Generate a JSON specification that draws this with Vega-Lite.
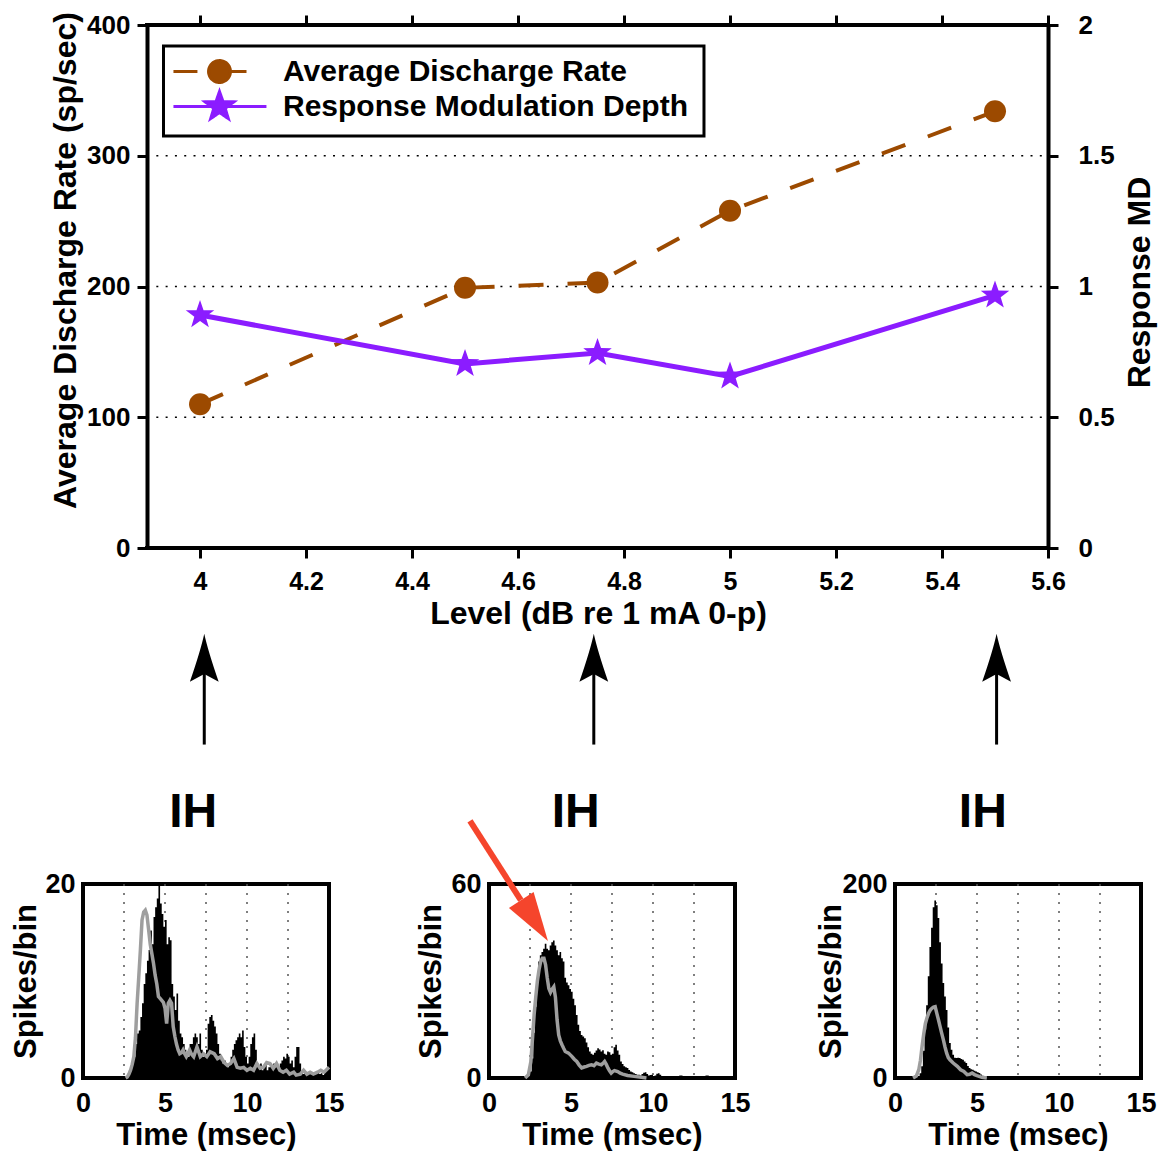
{
  "$schema": "https://vega.github.io/schema/vega-lite/v6.json",
  "padding": {"left": 7, "top": 11, "right": 0, "bottom": 0},
  "spacing": 0,
  "bounds": "flush",
  "config": {
    "font": "Liberation Sans",
    "view": {"stroke": null},
    "axis": {"grid": false, "labelColor": "black", "titleColor": "black", "labelFontWeight": "bold", "titleFontWeight": "bold", "domainColor": "black", "tickColor": "black", "labelFlush": false, "labelOverlap": false}
  },
  "datasets": {
    "h1": [{"t":2.5,"v":0},{"t":2.6,"v":0},{"t":2.7,"v":0.4},{"t":2.8,"v":0.8},{"t":2.9,"v":1},{"t":3.0,"v":1.5},{"t":3.1,"v":2.2},{"t":3.2,"v":3.5},{"t":3.3,"v":4.6},{"t":3.4,"v":4.9},{"t":3.5,"v":6.3},{"t":3.6,"v":7.7},{"t":3.7,"v":9.7},{"t":3.8,"v":10.8},{"t":3.9,"v":12.1},{"t":4.0,"v":13.2},{"t":4.1,"v":15.2},{"t":4.2,"v":13.8},{"t":4.3,"v":16.6},{"t":4.4,"v":17.6},{"t":4.5,"v":18.5},{"t":4.6,"v":20},{"t":4.7,"v":18},{"t":4.8,"v":16.9},{"t":4.9,"v":15.6},{"t":5.0,"v":16.3},{"t":5.1,"v":13.8},{"t":5.2,"v":14.5},{"t":5.3,"v":14.2},{"t":5.4,"v":9.7},{"t":5.5,"v":8.4},{"t":5.6,"v":7},{"t":5.7,"v":8.7},{"t":5.8,"v":5.9},{"t":5.9,"v":4.6},{"t":6.0,"v":4.2},{"t":6.1,"v":3.5},{"t":6.2,"v":2.9},{"t":6.3,"v":2.5},{"t":6.4,"v":2.2},{"t":6.5,"v":3.5},{"t":6.6,"v":3.5},{"t":6.7,"v":4.2},{"t":6.8,"v":4.6},{"t":6.9,"v":4.2},{"t":7.0,"v":3.5},{"t":7.1,"v":4.6},{"t":7.2,"v":2.9},{"t":7.3,"v":2.2},{"t":7.4,"v":2.5},{"t":7.5,"v":2.9},{"t":7.6,"v":5.6},{"t":7.7,"v":6.3},{"t":7.8,"v":6.5},{"t":7.9,"v":5.9},{"t":8.0,"v":5.3},{"t":8.1,"v":4.6},{"t":8.2,"v":3.5},{"t":8.3,"v":2.5},{"t":8.4,"v":1.8},{"t":8.5,"v":1.5},{"t":8.6,"v":1.8},{"t":8.7,"v":1.5},{"t":8.8,"v":1.1},{"t":8.9,"v":1.5},{"t":9.0,"v":2.2},{"t":9.1,"v":2.9},{"t":9.2,"v":3.5},{"t":9.3,"v":3.9},{"t":9.4,"v":4.2},{"t":9.5,"v":4.6},{"t":9.6,"v":4.2},{"t":9.7,"v":4.9},{"t":9.8,"v":3.2},{"t":9.9,"v":2.2},{"t":10.0,"v":1.5},{"t":10.1,"v":2.2},{"t":10.2,"v":3.5},{"t":10.3,"v":4.2},{"t":10.4,"v":4.6},{"t":10.5,"v":2.9},{"t":10.6,"v":1.5},{"t":10.7,"v":1.1},{"t":10.8,"v":1.5},{"t":10.9,"v":0.8},{"t":11.0,"v":1.1},{"t":11.1,"v":1.5},{"t":11.2,"v":0.8},{"t":11.3,"v":1.1},{"t":11.4,"v":1.5},{"t":11.5,"v":1.1},{"t":11.6,"v":1.5},{"t":11.7,"v":1.1},{"t":11.8,"v":1.5},{"t":11.9,"v":1.0},{"t":12.0,"v":1.5},{"t":12.1,"v":1.8},{"t":12.2,"v":2.2},{"t":12.3,"v":2.0},{"t":12.4,"v":2.5},{"t":12.5,"v":2.2},{"t":12.6,"v":1.5},{"t":12.7,"v":1.8},{"t":12.8,"v":1.1},{"t":12.9,"v":2.2},{"t":13.0,"v":3.2},{"t":13.1,"v":3.2},{"t":13.2,"v":1.5},{"t":13.3,"v":0.6},{"t":13.4,"v":0.4},{"t":13.5,"v":0.6},{"t":13.6,"v":0.3},{"t":13.7,"v":0.5},{"t":13.8,"v":0.4},{"t":13.9,"v":0.6},{"t":14.0,"v":0.3},{"t":14.1,"v":0.5},{"t":14.2,"v":0.4},{"t":14.3,"v":0.6},{"t":14.4,"v":0.4},{"t":14.5,"v":0.5},{"t":14.6,"v":0.3},{"t":14.7,"v":0.6},{"t":14.8,"v":0.8},{"t":14.9,"v":1.5},{"t":15.0,"v":1.5}],
    "g1": [{"t":2.6,"v":0},{"t":2.7,"v":0.1},{"t":2.8,"v":0.4},{"t":2.9,"v":0.8},{"t":3.0,"v":1.4},{"t":3.1,"v":2.2},{"t":3.2,"v":4.2},{"t":3.3,"v":7.7},{"t":3.4,"v":10.4},{"t":3.5,"v":13.2},{"t":3.6,"v":16.3},{"t":3.7,"v":17.1},{"t":3.8,"v":17.3},{"t":3.9,"v":16.8},{"t":4.0,"v":15.3},{"t":4.1,"v":13.8},{"t":4.2,"v":12.8},{"t":4.3,"v":11.8},{"t":4.4,"v":10.6},{"t":4.5,"v":9.7},{"t":4.6,"v":8.4},{"t":4.7,"v":8.2},{"t":4.8,"v":8.0},{"t":4.9,"v":7.8},{"t":5.0,"v":7.2},{"t":5.1,"v":5.6},{"t":5.2,"v":7.7},{"t":5.3,"v":8.0},{"t":5.4,"v":7.7},{"t":5.5,"v":5.3},{"t":5.6,"v":4.3},{"t":5.7,"v":3.5},{"t":5.8,"v":2.9},{"t":5.9,"v":2.5},{"t":6.0,"v":2.6},{"t":6.1,"v":2.9},{"t":6.2,"v":2.5},{"t":6.3,"v":2.2},{"t":6.4,"v":2.5},{"t":6.5,"v":2.9},{"t":6.6,"v":2.5},{"t":6.75,"v":2.2},{"t":6.85,"v":2.7},{"t":6.95,"v":3.2},{"t":7.05,"v":2.7},{"t":7.15,"v":2.2},{"t":7.35,"v":2.5},{"t":7.55,"v":2.2},{"t":7.75,"v":2.7},{"t":8.0,"v":2.5},{"t":8.2,"v":2.0},{"t":8.4,"v":2.2},{"t":8.6,"v":1.6},{"t":8.8,"v":1.3},{"t":9.0,"v":1.5},{"t":9.2,"v":2.0},{"t":9.4,"v":1.1},{"t":9.6,"v":1.0},{"t":9.8,"v":1.1},{"t":10.0,"v":0.8},{"t":10.2,"v":1.0},{"t":10.4,"v":0.8},{"t":10.6,"v":1.5},{"t":10.8,"v":1.0},{"t":11.0,"v":1.1},{"t":11.2,"v":1.6},{"t":11.4,"v":1.5},{"t":11.6,"v":1.0},{"t":11.8,"v":1.5},{"t":12.0,"v":0.8},{"t":12.2,"v":0.6},{"t":12.4,"v":0.8},{"t":12.6,"v":0.4},{"t":12.85,"v":0.6},{"t":13.0,"v":0.3},{"t":13.25,"v":0.4},{"t":13.45,"v":0.8},{"t":13.65,"v":0.4},{"t":13.85,"v":0.6},{"t":14.05,"v":0.4},{"t":14.3,"v":0.6},{"t":14.5,"v":0.8},{"t":14.7,"v":0.6},{"t":15.0,"v":1.1}],
    "h2": [{"t":2.3,"v":0},{"t":2.4,"v":0.5},{"t":2.5,"v":2},{"t":2.6,"v":6},{"t":2.7,"v":14},{"t":2.8,"v":22},{"t":2.9,"v":30},{"t":3.0,"v":36},{"t":3.1,"v":38},{"t":3.2,"v":39},{"t":3.3,"v":40},{"t":3.4,"v":41.5},{"t":3.5,"v":40},{"t":3.6,"v":39.5},{"t":3.7,"v":41},{"t":3.8,"v":42},{"t":3.9,"v":42.5},{"t":4.0,"v":41},{"t":4.1,"v":39.5},{"t":4.2,"v":38},{"t":4.3,"v":39},{"t":4.4,"v":37},{"t":4.5,"v":36},{"t":4.6,"v":31},{"t":4.7,"v":29.5},{"t":4.8,"v":28.7},{"t":4.9,"v":27.5},{"t":5.0,"v":26.7},{"t":5.1,"v":24.5},{"t":5.2,"v":22.5},{"t":5.3,"v":19.5},{"t":5.4,"v":16.5},{"t":5.5,"v":14.5},{"t":5.6,"v":13.3},{"t":5.7,"v":12.8},{"t":5.8,"v":12.3},{"t":5.9,"v":11},{"t":6.0,"v":9.5},{"t":6.1,"v":8.2},{"t":6.2,"v":7.5},{"t":6.3,"v":7.2},{"t":6.4,"v":7.8},{"t":6.5,"v":8.5},{"t":6.6,"v":9.2},{"t":6.7,"v":8.8},{"t":6.8,"v":8.2},{"t":6.9,"v":8.6},{"t":7.0,"v":7.5},{"t":7.1,"v":7.2},{"t":7.2,"v":8.2},{"t":7.3,"v":8.0},{"t":7.4,"v":7.2},{"t":7.5,"v":7.5},{"t":7.6,"v":9.5},{"t":7.7,"v":10.3},{"t":7.8,"v":8.5},{"t":7.9,"v":7.2},{"t":8.0,"v":5.1},{"t":8.1,"v":4.3},{"t":8.2,"v":3.6},{"t":8.3,"v":3.3},{"t":8.4,"v":3.1},{"t":8.5,"v":2.5},{"t":8.6,"v":2.0},{"t":8.7,"v":1.8},{"t":8.8,"v":1.5},{"t":8.9,"v":1.2},{"t":9.0,"v":1.0},{"t":9.1,"v":1.0},{"t":9.2,"v":0.8},{"t":9.3,"v":1.2},{"t":9.4,"v":1.6},{"t":9.5,"v":1.8},{"t":9.6,"v":1.2},{"t":9.7,"v":0.8},{"t":9.8,"v":0.9},{"t":9.9,"v":1.0},{"t":10.0,"v":0.6},{"t":10.1,"v":0.8},{"t":10.2,"v":1.3},{"t":10.3,"v":1.5},{"t":10.4,"v":1.0},{"t":10.5,"v":0.6},{"t":10.6,"v":0.4},{"t":10.7,"v":0.5},{"t":10.8,"v":0.3},{"t":10.9,"v":0.4},{"t":11.0,"v":0.3},{"t":11.2,"v":0.5},{"t":11.4,"v":0.3},{"t":11.6,"v":0.8},{"t":11.8,"v":0.3},{"t":12.0,"v":0.2},{"t":12.4,"v":0.3},{"t":12.8,"v":0.2},{"t":13.2,"v":0.8},{"t":13.4,"v":0.2},{"t":13.8,"v":0.3},{"t":14.2,"v":0.2},{"t":14.6,"v":0.3},{"t":14.8,"v":0.6},{"t":15.0,"v":0}],
    "g2": [{"t":2.2,"v":0},{"t":2.4,"v":1},{"t":2.55,"v":5},{"t":2.65,"v":12},{"t":2.75,"v":19.5},{"t":2.85,"v":25},{"t":2.95,"v":30},{"t":3.05,"v":33.5},{"t":3.15,"v":36},{"t":3.25,"v":37},{"t":3.35,"v":37},{"t":3.45,"v":35},{"t":3.55,"v":31},{"t":3.65,"v":27.7},{"t":3.75,"v":26.5},{"t":3.85,"v":27.5},{"t":3.95,"v":28.2},{"t":4.05,"v":25},{"t":4.15,"v":18},{"t":4.25,"v":13.3},{"t":4.35,"v":11.5},{"t":4.45,"v":10.3},{"t":4.55,"v":9.2},{"t":4.65,"v":8.2},{"t":4.85,"v":7.7},{"t":5.05,"v":6.7},{"t":5.2,"v":5.8},{"t":5.35,"v":5.1},{"t":5.5,"v":4.0},{"t":5.65,"v":3.1},{"t":5.8,"v":3.4},{"t":5.95,"v":3.6},{"t":6.1,"v":3.9},{"t":6.25,"v":4.1},{"t":6.4,"v":3.8},{"t":6.55,"v":4.6},{"t":6.7,"v":4.3},{"t":6.85,"v":4.1},{"t":7.0,"v":4.8},{"t":7.05,"v":5.1},{"t":7.15,"v":4.2},{"t":7.25,"v":3.1},{"t":7.35,"v":2.2},{"t":7.45,"v":1.5},{"t":7.55,"v":2.0},{"t":7.65,"v":2.3},{"t":7.85,"v":2.0},{"t":8.0,"v":1.5},{"t":8.15,"v":1.2},{"t":8.45,"v":0.8},{"t":8.85,"v":0.5},{"t":9.3,"v":0.2},{"t":9.6,"v":0}],
    "h3": [{"t":1.2,"v":0},{"t":1.3,"v":0.5},{"t":1.4,"v":2},{"t":1.5,"v":5},{"t":1.6,"v":12},{"t":1.7,"v":28},{"t":1.8,"v":50},{"t":1.9,"v":75},{"t":2.0,"v":105},{"t":2.1,"v":135},{"t":2.2,"v":155},{"t":2.3,"v":176},{"t":2.4,"v":183},{"t":2.5,"v":178},{"t":2.6,"v":165},{"t":2.7,"v":140},{"t":2.8,"v":118},{"t":2.9,"v":98},{"t":3.0,"v":84},{"t":3.1,"v":70},{"t":3.2,"v":52},{"t":3.3,"v":36},{"t":3.4,"v":29},{"t":3.5,"v":24},{"t":3.6,"v":21},{"t":3.7,"v":20.5},{"t":3.8,"v":21},{"t":3.9,"v":20.5},{"t":4.0,"v":19.5},{"t":4.1,"v":18.8},{"t":4.2,"v":17},{"t":4.3,"v":15.4},{"t":4.4,"v":12.5},{"t":4.5,"v":10.3},{"t":4.6,"v":9},{"t":4.7,"v":8.5},{"t":4.8,"v":7.5},{"t":4.9,"v":6.8},{"t":5.0,"v":6},{"t":5.1,"v":5.1},{"t":5.2,"v":3.5},{"t":5.3,"v":2.4},{"t":5.4,"v":1.8},{"t":5.5,"v":1.2},{"t":5.6,"v":1},{"t":5.8,"v":0.8},{"t":6.0,"v":0.7},{"t":6.2,"v":0.4},{"t":6.5,"v":0.2},{"t":7.0,"v":0.1},{"t":15.0,"v":0}],
    "g3": [{"t":1.1,"v":0},{"t":1.3,"v":2},{"t":1.45,"v":8.5},{"t":1.55,"v":18},{"t":1.65,"v":32.5},{"t":1.75,"v":45},{"t":1.85,"v":56},{"t":1.95,"v":62},{"t":2.05,"v":66.7},{"t":2.15,"v":70},{"t":2.25,"v":71.8},{"t":2.35,"v":73},{"t":2.45,"v":73.5},{"t":2.55,"v":66.7},{"t":2.65,"v":60},{"t":2.75,"v":53},{"t":2.85,"v":46},{"t":2.95,"v":39.3},{"t":3.05,"v":32},{"t":3.15,"v":25.6},{"t":3.25,"v":21},{"t":3.35,"v":18.8},{"t":3.55,"v":15.4},{"t":3.8,"v":12},{"t":4.0,"v":8.5},{"t":4.2,"v":6.8},{"t":4.4,"v":3.4},{"t":4.55,"v":3.8},{"t":4.7,"v":5.1},{"t":4.85,"v":3.5},{"t":5.0,"v":2.4},{"t":5.3,"v":0.7},{"t":5.6,"v":0}]
  },
  "vconcat": [
    {
      "width": 965,
      "height": 523,
      "data": {"values": [
        {"level": 4, "adr": 110, "rmd": 0.891},
        {"level": 4.5, "adr": 199, "rmd": 0.704},
        {"level": 4.75, "adr": 203, "rmd": 0.746},
        {"level": 5, "adr": 258, "rmd": 0.656},
        {"level": 5.5, "adr": 334, "rmd": 0.966}
      ]},
      "resolve": {"scale": {"y": "independent"}, "axis": {"x": "independent", "y": "independent"}},
      "layer": [
        {
          "data": {"values": [{"rate": 100}, {"rate": 200}, {"rate": 300}]},
          "mark": {"type": "rule", "strokeDash": [2, 7.3], "strokeWidth": 1.6, "color": "black"},
          "encoding": {
            "x": {"datum": 3.9, "type": "quantitative", "scale": {"domain": [3.7792, 5.6], "nice": false, "zero": false}, "axis": null},
            "x2": {"datum": 5.6},
            "y": {"field": "rate", "type": "quantitative", "scale": {"domain": [0, 400], "nice": false}, "axis": null}
          }
        },
        {
          "data": {"values": [{"rate": 0}, {"rate": 400}]},
          "mark": {"type": "rule", "strokeWidth": 4, "color": "black", "strokeCap": "square"},
          "encoding": {
            "x": {"datum": 3.9, "type": "quantitative", "scale": {"domain": [3.7792, 5.6], "nice": false, "zero": false},
                  "axis": {"orient": "top", "values": [4, 4.2, 4.4, 4.6, 4.8, 5, 5.2, 5.4, 5.6], "labels": false, "domain": false, "tickSize": 10, "tickWidth": 3, "title": null}},
            "x2": {"datum": 5.6},
            "y": {"field": "rate", "type": "quantitative", "scale": {"domain": [0, 400], "nice": false}, "axis": null}
          }
        },
        {
          "data": {"values": [{}]},
          "mark": {"type": "rect", "filled": false, "stroke": "black", "strokeWidth": 3},
          "encoding": {
            "x": {"datum": 3.9311, "type": "quantitative", "scale": {"domain": [3.7792, 5.6], "nice": false, "zero": false}, "axis": null},
            "x2": {"datum": 4.9509},
            "y": {"datum": 383.9, "type": "quantitative", "scale": {"domain": [0, 400], "nice": false}, "axis": null},
            "y2": {"datum": 315.1}
          }
        },
        {
          "mark": {"type": "line", "strokeDash": [25, 24], "strokeWidth": 4},
          "encoding": {
            "x": {"field": "level", "type": "quantitative", "scale": {"domain": [3.7792, 5.6], "nice": false, "zero": false},
                  "axis": {"orient": "bottom", "values": [4, 4.2, 4.4, 4.6, 4.8, 5, 5.2, 5.4, 5.6], "format": "~g", "domain": false, "tickSize": 10, "tickWidth": 3, "labelFontSize": 25, "labelPadding": 11,
                           "title": "Level (dB re 1 mA 0-p)", "titleFontSize": 32, "titleX": 515, "titleY": 75, "titleBaseline": "alphabetic", "titleAlign": "center"}},
            "y": {"field": "adr", "type": "quantitative", "scale": {"domain": [0, 400], "nice": false},
                  "axis": {"orient": "left", "offset": -64, "values": [0, 100, 200, 300, 400], "format": "d", "domainWidth": 4, "tickSize": 10, "tickWidth": 3, "labelFontSize": 26, "labelPadding": 7,
                           "title": "Average Discharge Rate (sp/sec)", "titleFontSize": 32, "titleAngle": -90, "titleX": -72, "titleY": 235, "titleBaseline": "alphabetic", "titleAlign": "center"}},
            "color": {"datum": "Average Discharge Rate", "type": "nominal",
                      "scale": {"domain": ["Average Discharge Rate", "Response Modulation Depth"], "range": ["#9C4A00", "#8B1CFF"]},
                      "legend": {
                        "title": null, "orient": "none", "legendX": 120, "legendY": 30, "direction": "vertical",
                        "labelFontSize": 30, "labelFontWeight": "bold", "labelColor": "black", "labelLimit": 1000, "labelOffset": 47,
                        "symbolSize": 900, "rowPadding": -4, "padding": 0,
                        "encode": {
                          "symbols": {"update": {
                            "shape": {"signal": "datum.value === 'Average Discharge Rate' ? 'M-3.07,0L-1.47,0M1.8,0L0.73,0M0.73,0C0.73,0.403,0.403,0.73,0,0.73C-0.403,0.73,-0.73,0.403,-0.73,0C-0.73,-0.403,-0.403,-0.73,0,-0.73C0.403,-0.73,0.73,-0.403,0.73,0Z' : 'M-3.07,0L3.13,0M0,-1L0.235,-0.324L0.951,-0.309L0.38,0.124L0.588,0.809L0,0.4L-0.588,0.809L-0.38,0.124L-0.951,-0.309L-0.235,-0.324Z'"},
                            "fill": {"scale": "color", "field": "value"},
                            "stroke": {"scale": "color", "field": "value"},
                            "strokeWidth": {"value": 3},
                            "strokeDash": {"value": [1, 0]},
                            "opacity": {"value": 1},
                            "size": {"value": 900}
                          }}
                        }
                      }}
          }
        },
        {
          "mark": {"type": "point", "shape": "circle", "filled": true, "size": 484, "opacity": 1},
          "encoding": {
            "x": {"field": "level", "type": "quantitative", "scale": {"domain": [3.7792, 5.6], "nice": false, "zero": false}, "axis": null},
            "y": {"field": "adr", "type": "quantitative", "scale": {"domain": [0, 400], "nice": false}, "axis": null},
            "color": {"datum": "Average Discharge Rate", "type": "nominal"}
          }
        },
        {
          "mark": {"type": "line", "strokeWidth": 5},
          "encoding": {
            "x": {"field": "level", "type": "quantitative", "scale": {"domain": [3.7792, 5.6], "nice": false, "zero": false}, "axis": null},
            "y": {"field": "rmd", "type": "quantitative", "scale": {"domain": [0, 2], "nice": false},
                  "axis": {"orient": "right", "values": [0, 0.5, 1, 1.5, 2], "format": "~g", "domainWidth": 4, "tickSize": 10, "tickWidth": 3, "labelFontSize": 26, "labelPadding": 20,
                           "title": "Response MD", "titleFontSize": 32, "titleAngle": -90, "titleX": 101, "titleY": 257, "titleBaseline": "alphabetic", "titleAlign": "center"}},
            "color": {"datum": "Response Modulation Depth", "type": "nominal"}
          }
        },
        {
          "mark": {"type": "point", "shape": "M0,-1L0.235,-0.324L0.951,-0.309L0.38,0.124L0.588,0.809L0,0.4L-0.588,0.809L-0.38,0.124L-0.951,-0.309L-0.235,-0.324Z", "filled": true, "size": 900, "opacity": 1},
          "encoding": {
            "x": {"field": "level", "type": "quantitative", "scale": {"domain": [3.7792, 5.6], "nice": false, "zero": false}, "axis": null},
            "y": {"field": "rmd", "type": "quantitative", "scale": {"domain": [0, 2], "nice": false}, "axis": null},
            "color": {"datum": "Response Modulation Depth", "type": "nominal"}
          }
        }
      ]
    },
    {
      "width": 965,
      "height": 336,
      "layer": [
        {
          "data": {"values": [{"level": 4.008}, {"level": 4.743}, {"level": 5.503}]},
          "mark": {"type": "rule", "strokeWidth": 3, "color": "black"},
          "encoding": {
            "x": {"field": "level", "type": "quantitative", "scale": {"domain": [3.7792, 5.6], "nice": false, "zero": false}, "axis": null},
            "y": {"datum": 41.5, "type": "quantitative", "scale": {"domain": [0, 100], "nice": false, "zero": false}, "axis": null},
            "y2": {"datum": 68}
          }
        },
        {
          "data": {"values": [{"level": 4.008}, {"level": 4.743}, {"level": 5.503}]},
          "mark": {"type": "point", "shape": "M0,-1Q0.15,-0.3,0.6,1L0,0.67L-0.6,1Q-0.15,-0.3,0,-1Z", "filled": true, "size": 2304, "color": "black", "opacity": 1},
          "encoding": {
            "x": {"field": "level", "type": "quantitative", "scale": {"domain": [3.7792, 5.6], "nice": false, "zero": false}, "axis": null},
            "y": {"datum": 67.3, "type": "quantitative", "scale": {"domain": [0, 100], "nice": false, "zero": false}, "axis": null}
          }
        },
        {
          "data": {"values": [{"level": 3.987, "label": "IH"}, {"level": 4.709, "label": "IH"}, {"level": 5.477, "label": "IH"}]},
          "mark": {"type": "text", "fontSize": 48, "fontWeight": "bold", "baseline": "alphabetic", "align": "center", "color": "black"},
          "encoding": {
            "x": {"field": "level", "type": "quantitative", "scale": {"domain": [3.7792, 5.6], "nice": false, "zero": false}, "axis": null},
            "y": {"datum": 17, "type": "quantitative", "scale": {"domain": [0, 100], "nice": false, "zero": false}, "axis": null},
            "text": {"field": "label"}
          }
        }
      ]
    },
    {
      "hconcat": [
        {
          "width": 246, "height": 194,
          "view": {"stroke": "black", "strokeWidth": 4},
          "resolve": {"axis": {"x": "independent", "y": "independent"}},
          "layer": [
            {
              "data": {"values": [{"t": 2.5}, {"t": 5}, {"t": 7.5}, {"t": 10}, {"t": 12.5}]},
              "mark": {"type": "rule", "strokeDash": [2, 7], "strokeWidth": 1.5, "color": "#555555"},
              "encoding": {"x": {"field": "t", "type": "quantitative", "scale": {"domain": [0, 15], "nice": false}, "axis": null}}
            },
            {
              "data": {"name": "h1"},
              "mark": {"type": "area", "interpolate": "step-after", "color": "black"},
              "encoding": {
                "x": {"field": "t", "type": "quantitative", "scale": {"domain": [0, 15], "nice": false},
                      "axis": {"values": [0, 5, 10, 15], "format": "d", "domain": false, "ticks": false, "tickSize": 0, "labelFontSize": 27, "labelPadding": 12, "title": "Time (msec)", "titleFontSize": 31, "titleY": 66, "titleBaseline": "alphabetic"}},
                "y": {"field": "v", "type": "quantitative", "scale": {"domain": [0, 20], "nice": false},
                      "axis": {"values": [0, 20], "format": "d", "domain": false, "ticks": false, "tickSize": 0, "labelFontSize": 27, "labelPadding": 8, "title": "Spikes/bin", "titleFontSize": 31, "titleAngle": -90, "titleX": -48, "titleBaseline": "alphabetic"}}
              }
            },
            {
              "data": {"name": "g1"},
              "mark": {"type": "line", "color": "#9E9E9E", "strokeWidth": 3.5},
              "encoding": {
                "x": {"field": "t", "type": "quantitative", "scale": {"domain": [0, 15], "nice": false}, "axis": null},
                "y": {"field": "v", "type": "quantitative", "scale": {"domain": [0, 20], "nice": false}, "axis": null}
              }
            }
          ]
        },
        {
          "width": 246, "height": 194,
          "view": {"stroke": "black", "strokeWidth": 4},
          "resolve": {"axis": {"x": "independent", "y": "independent"}},
          "layer": [
            {
              "data": {"values": [{"t": 2.5}, {"t": 5}, {"t": 7.5}, {"t": 10}, {"t": 12.5}]},
              "mark": {"type": "rule", "strokeDash": [2, 7], "strokeWidth": 1.5, "color": "#555555"},
              "encoding": {"x": {"field": "t", "type": "quantitative", "scale": {"domain": [0, 15], "nice": false}, "axis": null}}
            },
            {
              "data": {"name": "h2"},
              "mark": {"type": "area", "interpolate": "step-after", "color": "black"},
              "encoding": {
                "x": {"field": "t", "type": "quantitative", "scale": {"domain": [0, 15], "nice": false},
                      "axis": {"values": [0, 5, 10, 15], "format": "d", "domain": false, "ticks": false, "tickSize": 0, "labelFontSize": 27, "labelPadding": 12, "title": "Time (msec)", "titleFontSize": 31, "titleY": 66, "titleBaseline": "alphabetic"}},
                "y": {"field": "v", "type": "quantitative", "scale": {"domain": [0, 60], "nice": false},
                      "axis": {"values": [0, 60], "format": "d", "domain": false, "ticks": false, "tickSize": 0, "labelFontSize": 27, "labelPadding": 8, "title": "Spikes/bin", "titleFontSize": 31, "titleAngle": -90, "titleX": -49, "titleBaseline": "alphabetic"}}
              }
            },
            {
              "data": {"name": "g2"},
              "mark": {"type": "line", "color": "#9E9E9E", "strokeWidth": 3.5},
              "encoding": {
                "x": {"field": "t", "type": "quantitative", "scale": {"domain": [0, 15], "nice": false}, "axis": null},
                "y": {"field": "v", "type": "quantitative", "scale": {"domain": [0, 60], "nice": false}, "axis": null}
              }
            },
            {
              "data": {"values": [{}]},
              "mark": {"type": "rule", "color": "#F5452C", "strokeWidth": 6},
              "encoding": {
                "x": {"datum": -1.16, "type": "quantitative", "scale": {"domain": [0, 15], "nice": false}, "axis": null},
                "y": {"datum": 79.5, "type": "quantitative", "scale": {"domain": [0, 60], "nice": false}, "axis": null},
                "x2": {"datum": 1.94},
                "y2": {"datum": 55}
              }
            },
            {
              "data": {"values": [{}]},
              "mark": {"type": "point", "shape": "M0,1L-0.6,-1L0.6,-1Z", "filled": true, "size": 2401, "color": "#F5452C", "opacity": 1, "angle": -33},
              "encoding": {
                "x": {"datum": 2.78, "type": "quantitative", "scale": {"domain": [0, 15], "nice": false}, "axis": null},
                "y": {"datum": 48.7, "type": "quantitative", "scale": {"domain": [0, 60], "nice": false}, "axis": null}
              }
            }
          ]
        },
        {
          "width": 246, "height": 194,
          "view": {"stroke": "black", "strokeWidth": 4},
          "resolve": {"axis": {"x": "independent", "y": "independent"}},
          "layer": [
            {
              "data": {"values": [{"t": 2.5}, {"t": 5}, {"t": 7.5}, {"t": 10}, {"t": 12.5}]},
              "mark": {"type": "rule", "strokeDash": [2, 7], "strokeWidth": 1.5, "color": "#555555"},
              "encoding": {"x": {"field": "t", "type": "quantitative", "scale": {"domain": [0, 15], "nice": false}, "axis": null}}
            },
            {
              "data": {"name": "h3"},
              "mark": {"type": "area", "interpolate": "step-after", "color": "black"},
              "encoding": {
                "x": {"field": "t", "type": "quantitative", "scale": {"domain": [0, 15], "nice": false},
                      "axis": {"values": [0, 5, 10, 15], "format": "d", "domain": false, "ticks": false, "tickSize": 0, "labelFontSize": 27, "labelPadding": 12, "title": "Time (msec)", "titleFontSize": 31, "titleY": 66, "titleBaseline": "alphabetic"}},
                "y": {"field": "v", "type": "quantitative", "scale": {"domain": [0, 200], "nice": false},
                      "axis": {"values": [0, 200], "format": "d", "domain": false, "ticks": false, "tickSize": 0, "labelFontSize": 27, "labelPadding": 8, "title": "Spikes/bin", "titleFontSize": 31, "titleAngle": -90, "titleX": -55, "titleBaseline": "alphabetic"}}
              }
            },
            {
              "data": {"name": "g3"},
              "mark": {"type": "line", "color": "#9E9E9E", "strokeWidth": 3.5},
              "encoding": {
                "x": {"field": "t", "type": "quantitative", "scale": {"domain": [0, 15], "nice": false}, "axis": null},
                "y": {"field": "v", "type": "quantitative", "scale": {"domain": [0, 200], "nice": false}, "axis": null}
              }
            }
          ]
        }
      ],
      "spacing": 160,
      "bounds": "flush"
    }
  ]
}
